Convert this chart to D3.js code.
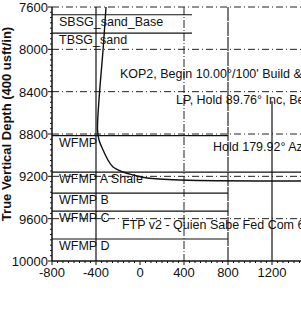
<!DOCTYPE html>
<html>
<head>
<meta charset="utf-8">
<script src="https://cdn.jsdelivr.net/npm/d3@7"></script>
<style>
  body { margin: 0; background: #fff; }
  text { font-family: "Liberation Sans", Arial, sans-serif; fill: #111; }
</style>
</head>
<body>
<div id="chart"></div>
<script>
// Axis ticks
const xTicks = [-800, -400, 0, 400, 800, 1200];
const yTicks = [7600, 8000, 8400, 8800, 9200, 9600, 10000];

// Formation tops: name, TVD, vertical section where the line ends
const formNames = ["SBSG_sand_Base", "TBSG_sand", "WFMP", "WFMP A Shale", "WFMP B", "WFMP C", "WFMP D"];
const formTvd = [7673, 7846, 8815, 9160, 9358, 9528, 9792];
const formEnd = [473, 473, 800, 800, 800, 800, 800];

// Well path (vertical section, TVD)
const pathVs = [-309, -336, -373, -386, -373, -336, -291, -245, -155, -64, 64, 364, 1500];
const pathTvd = [7600, 8006, 8479, 8762, 8857, 8951, 9046, 9112, 9159, 9187, 9216, 9235, 9244];

// Annotations: text, VS, TVD of baseline
const noteText = ["KOP2, Begin 10.00°/100' Build & Turn", "LP, Hold 89.76° Inc, Begin 1.00°/100' Turn",
                  "Hold 179.92° Azm", "FTP v2 - Quien Sabe Fed Com 601H"];
const noteVs = [-182, 327, 664, -164];
const noteTvd = [8270, 8520, 8957, 9701];

const W = 301, H = 310;
const svg = d3.select("#chart").append("svg")
    .attr("width", W).attr("height", H);

const x = d3.scaleLinear().domain([-800, 1200]).range([52, 272]);
const y = d3.scaleLinear().domain([7600, 10000]).range([7, 261]);

const plot = svg.append("g");

// Horizontal dash-dot gridlines
plot.selectAll(".hgrid")
    .data(yTicks.slice(0, -1))
    .enter().append("line")
    .attr("x1", x(-800)).attr("x2", W)
    .attr("y1", d => y(d)).attr("y2", d => y(d))
    .attr("stroke", "#222").attr("stroke-width", 1)
    .attr("stroke-dasharray", "7,3,1,3");

// Vertical gridlines
plot.append("line")
    .attr("x1", x(-400)).attr("x2", x(-400))
    .attr("y1", y(7600)).attr("y2", y(10000))
    .attr("stroke", "#111").attr("stroke-width", 1.2);
plot.append("line")
    .attr("x1", x(400)).attr("x2", x(400))
    .attr("y1", y(7600)).attr("y2", y(10000))
    .attr("stroke", "#222").attr("stroke-width", 1)
    .attr("stroke-dasharray", "8,2,1,2");
plot.append("line")
    .attr("x1", x(800)).attr("x2", x(800))
    .attr("y1", y(7600)).attr("y2", y(10000))
    .attr("stroke", "#111").attr("stroke-width", 1.1)
    .attr("stroke-dasharray", "14,1");
plot.append("line")
    .attr("x1", x(1200)).attr("x2", x(1200))
    .attr("y1", y(8490)).attr("y2", y(10000))
    .attr("stroke", "#111").attr("stroke-width", 1.2);

// Formation lines
plot.selectAll(".form")
    .data(formNames)
    .enter().append("line")
    .attr("x1", x(-800))
    .attr("x2", (d, i) => formNames[i] === "WFMP A Shale" ? W : x(formEnd[i]))
    .attr("y1", (d, i) => y(formTvd[i]))
    .attr("y2", (d, i) => y(formTvd[i]))
    .attr("stroke", "#111").attr("stroke-width", 1.2);

// Formation labels
plot.selectAll(".flabel")
    .data(formNames)
    .enter().append("text")
    .attr("x", 59)
    .attr("y", (d, i) => y(formTvd[i]) + 11)
    .style("font-size", "12.5px")
    .text(d => d);

// Well path
const pts = pathVs.map((v, i) => [v, pathTvd[i]]);
plot.append("path")
    .datum(pts)
    .attr("fill", "none")
    .attr("stroke", "#111")
    .attr("stroke-width", 1.4)
    .attr("d", d3.line().x(d => x(d[0])).y(d => y(d[1])).curve(d3.curveCatmullRom));

// Annotations
plot.selectAll(".note")
    .data(noteText)
    .enter().append("text")
    .attr("x", (d, i) => x(noteVs[i]))
    .attr("y", (d, i) => y(noteTvd[i]))
    .style("font-size", "12.5px")
    .text(d => d);

// Left axis
const yAxis = svg.append("g");
yAxis.append("line")
    .attr("x1", x(-800)).attr("x2", x(-800))
    .attr("y1", y(7600)).attr("y2", y(10000))
    .attr("stroke", "#111").attr("stroke-width", 1.5);
yAxis.selectAll(".ytick")
    .data(d3.range(7600, 10001, 50))
    .enter().append("line")
    .attr("x1", d => x(-800) - (d % 400 === 0 ? 4 : 2))
    .attr("x2", x(-800))
    .attr("y1", d => y(d)).attr("y2", d => y(d))
    .attr("stroke", "#111").attr("stroke-width", 1);
yAxis.selectAll(".ylab")
    .data(yTicks)
    .enter().append("text")
    .attr("x", x(-800) - 4)
    .attr("y", d => y(d) + 5)
    .attr("text-anchor", "end")
    .style("font-size", "13px")
    .text(d => d);

// Bottom axis
const xAxis = svg.append("g");
xAxis.append("line")
    .attr("x1", x(-800)).attr("x2", W)
    .attr("y1", y(10000)).attr("y2", y(10000))
    .attr("stroke", "#111").attr("stroke-width", 1.5);
xAxis.selectAll(".xtick")
    .data(d3.range(-800, 1601, 50))
    .enter().append("line")
    .attr("x1", d => x(d)).attr("x2", d => x(d))
    .attr("y1", y(10000))
    .attr("y2", d => y(10000) + (d % 400 === 0 ? 4 : 2))
    .attr("stroke", "#111").attr("stroke-width", 1);
xAxis.selectAll(".xlab")
    .data(xTicks)
    .enter().append("text")
    .attr("x", d => x(d))
    .attr("y", y(10000) + 16)
    .attr("text-anchor", "middle")
    .style("font-size", "13px")
    .text(d => d);

// Y axis title
svg.append("text")
    .attr("transform", "rotate(-90)")
    .attr("x", -124)
    .attr("y", 11)
    .attr("text-anchor", "middle")
    .style("font-size", "13px")
    .style("font-weight", "bold")
    .text("True Vertical Depth (400 usft/in)");
</script>
</body>
</html>
